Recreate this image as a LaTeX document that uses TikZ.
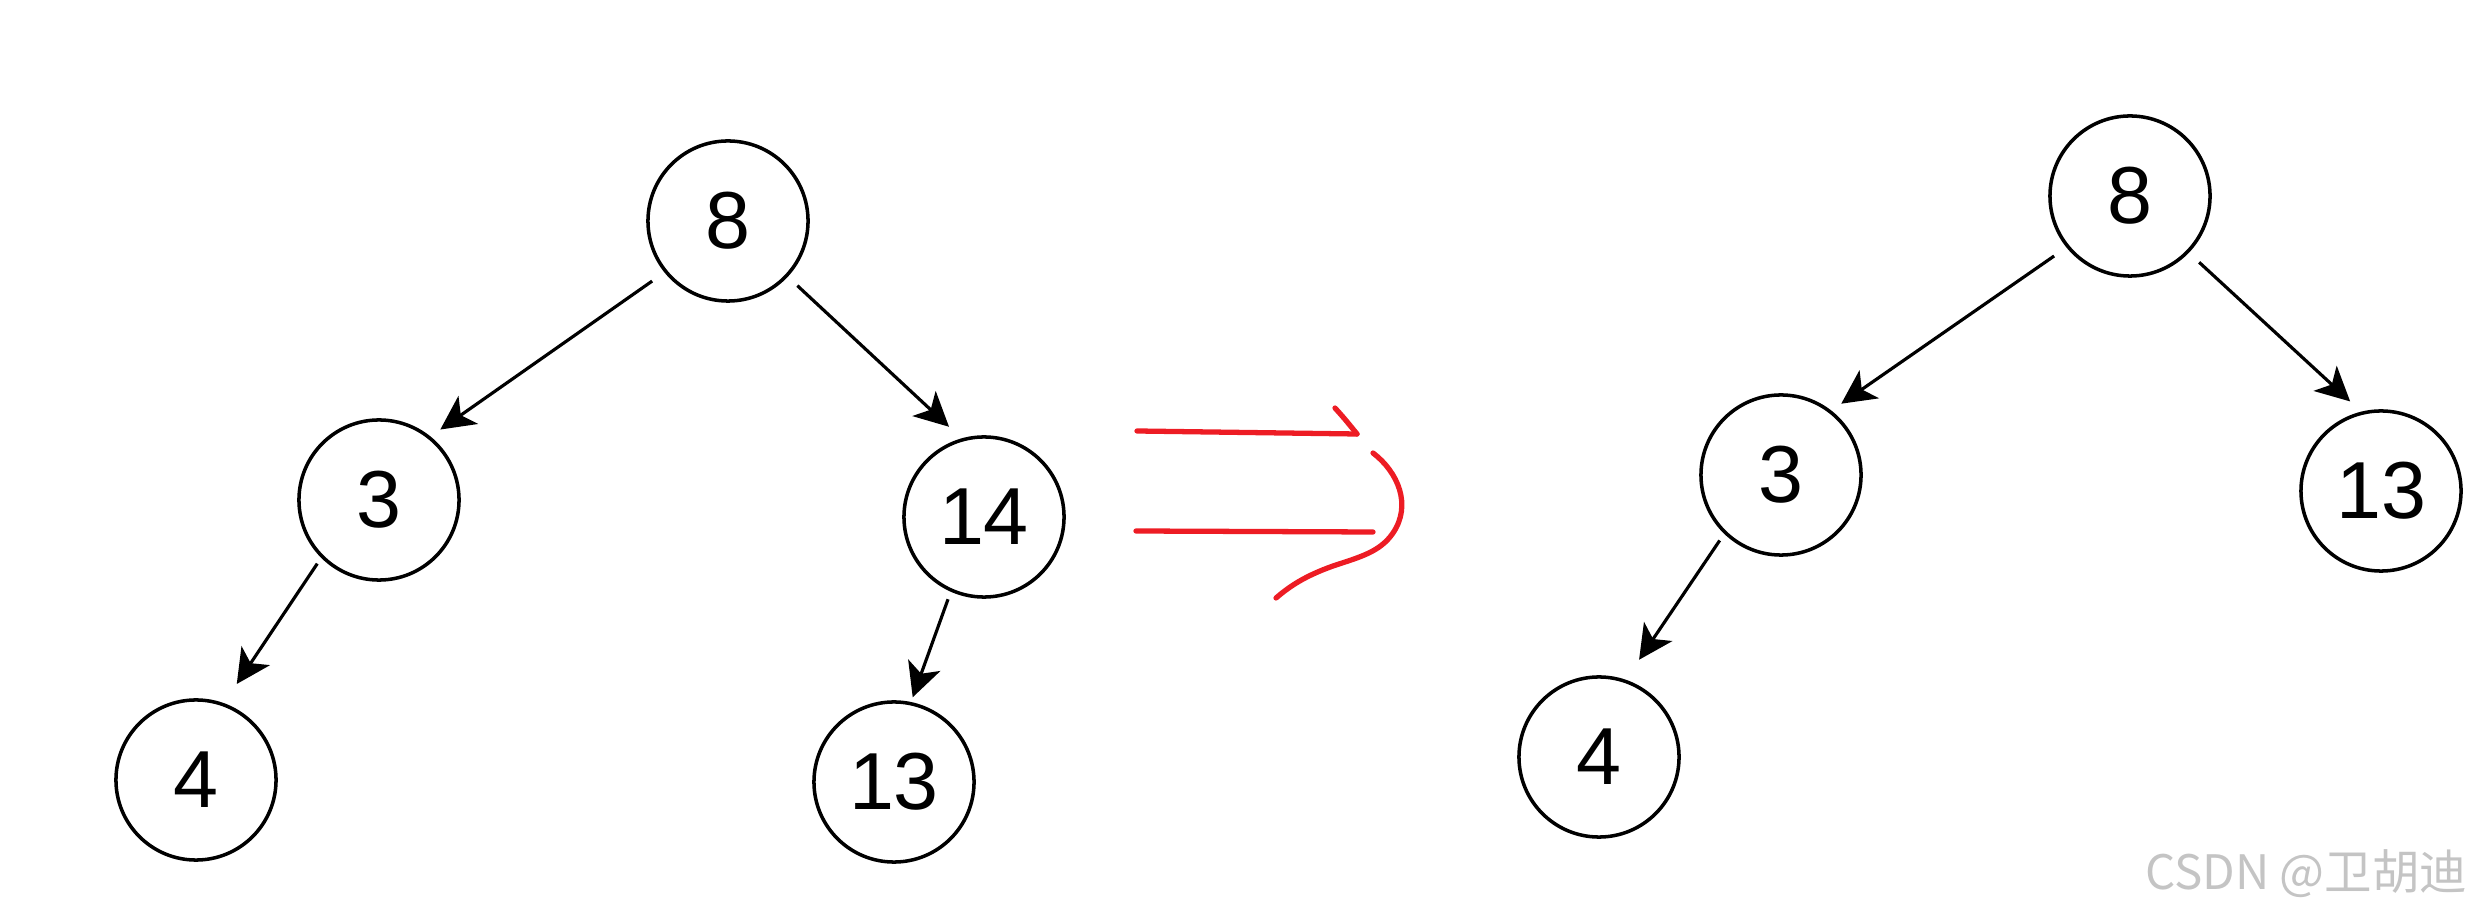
\documentclass[tikz,border=0pt]{standalone}
\usepackage{fontspec}
\setmainfont{Liberation Sans}
\newfontfamily\cjk{Noto Sans CJK SC}
\usetikzlibrary{arrows.meta}
\definecolor{penred}{RGB}{237,28,36}
\definecolor{wmgray}{RGB}{196,196,196}
\begin{document}
\begin{tikzpicture}[x=0.01cm,y=-0.01cm,
  treenode/.style={circle,draw=black,line width=1pt,minimum size=1.6cm,inner sep=0pt,
    font=\fontsize{23}{23}\selectfont},
  edge/.style={line width=0.9pt,-{Stealth[length=0.34cm,width=0.34cm,inset=0.09cm]}},
  redpen/.style={draw=penred,line width=1.5pt,line cap=round,line join=round}]
\useasboundingbox (0,0) rectangle (2478,916);
% left tree
\node[treenode] (L8) at (728,221) {8};
\node[treenode] (L3) at (379,500) {3};
\node[treenode] (L14) at (984,517) {14};
\node[treenode] (L4) at (196,780) {4};
\node[treenode] (L13) at (894,782) {13};
\draw[edge,shorten <=0.15cm,shorten >=0.12cm] (L8.219) -- (L3.51);
\draw[edge,shorten <=0.13cm,shorten >=0.17cm] (L8.317) -- (L14.106);
\draw[edge,shorten <=0.07cm,shorten >=0.23cm] (L3.225) -- (L4.70);
\draw[edge,shorten <=0.08cm,shorten >=0.05cm] (L14.246) -- (L13.78);
% right tree
\node[treenode] (R8) at (2130,196) {8};
\node[treenode] (R3) at (1781,475) {3};
\node[treenode] (R13) at (2381,491) {13};
\node[treenode] (R4) at (1599,757) {4};
\draw[edge,shorten <=0.15cm,shorten >=0.12cm] (R8.219) -- (R3.52);
\draw[edge,shorten <=0.14cm,shorten >=0.15cm] (R8.316) -- (R13.104);
\draw[edge,shorten <=0.08cm,shorten >=0.24cm] (R3.226) -- (R4.71);
% red hand-drawn double arrow
\draw[redpen] (1137,431) -- (1357,434);
\draw[redpen] (1335,408) .. controls (1344,418) .. (1357,434);
\draw[redpen] (1136,531) -- (1373,532);
\draw[redpen] (1373,453) .. controls (1398,472) and (1412,505) .. (1393,533)
  .. controls (1380,552) and (1360,557) .. (1333,566)
  .. controls (1305,576) and (1290,586) .. (1276,598);
% watermark
\node[anchor=east,text=wmgray,inner sep=0pt,font=\cjk\fontsize{13.5}{13.5}\selectfont] (wm) at (2468,874) {CSDN @卫胡迪};
\end{tikzpicture}
\end{document}
